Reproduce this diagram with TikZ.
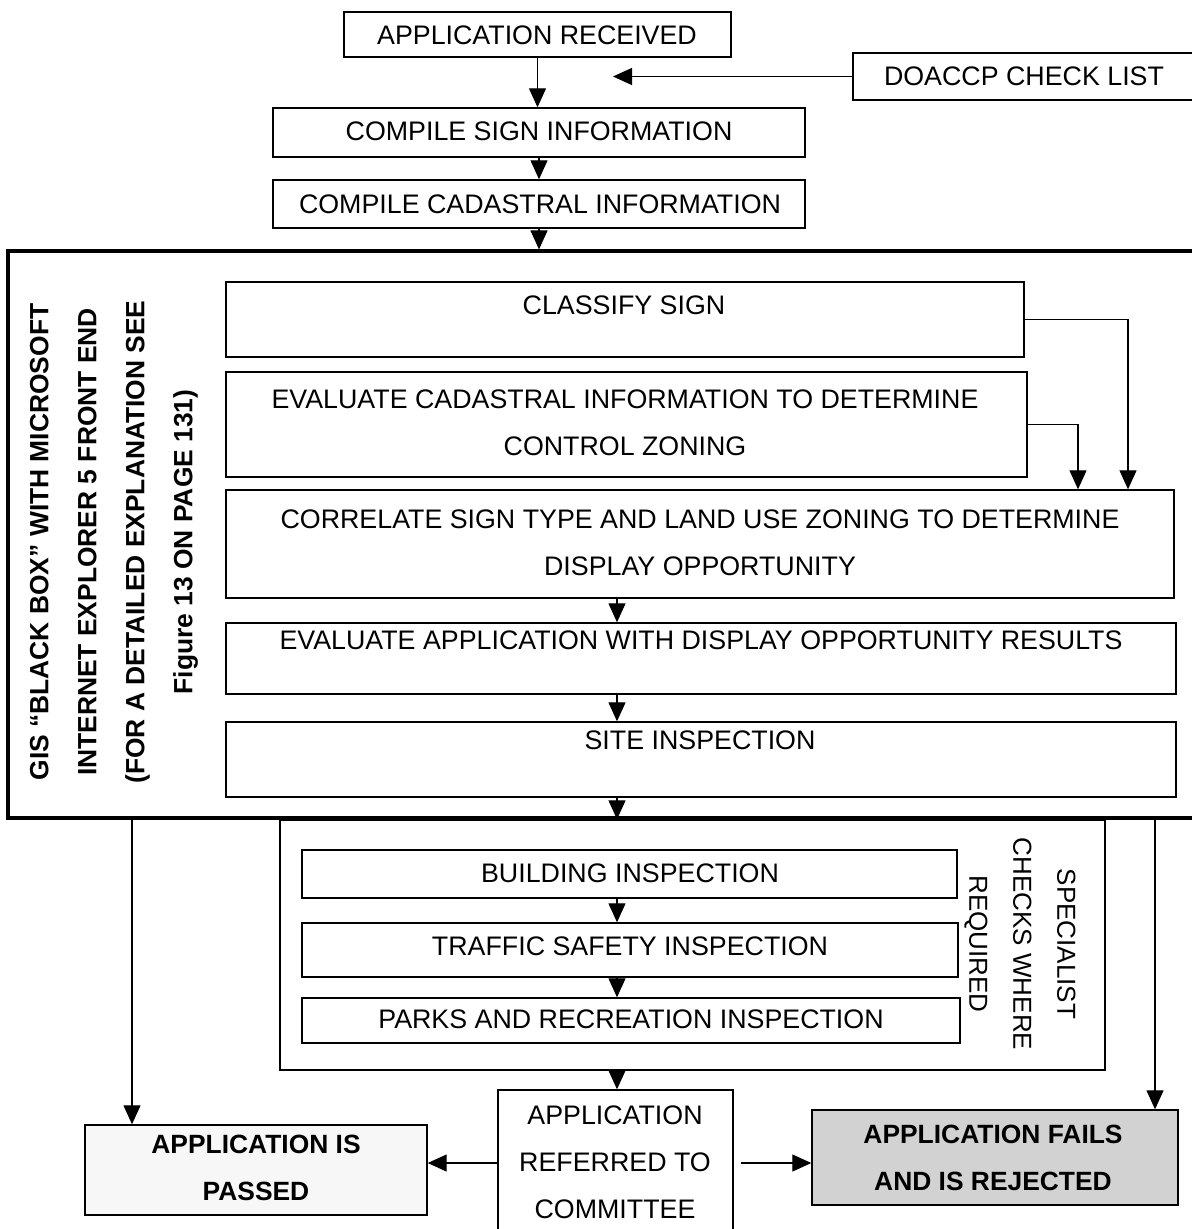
\documentclass[tikz,border=0pt]{standalone}
\usepackage{fontspec}
\setmainfont{Liberation Sans}
\usetikzlibrary{arrows.meta,fit,calc}

\begin{document}
\begin{tikzpicture}[x=0.5pt,y=-0.5pt,
  box/.style={draw, line width=0.7pt, inner sep=0pt, rectangle},
  frame/.style={draw, line width=1.6pt, inner sep=0pt, rectangle},
  txt/.style={font=\fontsize{13.4}{23.5}\selectfont, align=center, inner sep=0pt},
  btxt/.style={font=\bfseries\fontsize{13.2}{23.5}\selectfont, align=center, inner sep=0pt},
  arr/.style={line width=0.6pt, -{Triangle[length=9.5pt,width=8.5pt]}},
]
\fill[white] (0,0) rectangle (1191,1229);
\useasboundingbox (0,0) rectangle (1191,1229);

% intake steps
\node[box, fit={(344,12) (731,57)}] (apprec) {};
\node[txt] (apprec-t) at (537,35) {APPLICATION RECEIVED};
\node[box, fit={(853,53) (1205,100)}] (doaccp) {};
\node[txt] (doaccp-t) at (1024,76) {DOACCP CHECK LIST};
\coordinate (listtip) at (613,76);
\node[box, fit={(273,108) (805,157)}] (sign) {};
\node[txt] (sign-t) at (539,131) {COMPILE SIGN INFORMATION};
\node[box, fit={(273,180) (805,228)}] (cad) {};
\node[txt] (cad-t) at (540,204) {COMPILE CADASTRAL INFORMATION};

% GIS black box
\node[frame, fit={(8,251) (1215,818)}] (gis) {};
\node[btxt, font=\bfseries\fontsize{13.2}{24}\selectfont, rotate=90] (gis-t) at (114,542)
  {GIS “BLACK BOX” WITH MICROSOFT\\INTERNET EXPLORER 5 FRONT END\\(FOR A DETAILED EXPLANATION SEE\\Figure 13 ON PAGE 131)};
\node[box, fit={(226,282) (1024,357)}] (classify) {};
\node[txt] (classify-t) at (624,305) {CLASSIFY SIGN};
\node[box, fit={(226,372) (1027,477)}] (evalcad) {};
\node[txt] (evalcad-t) at (625,423) {EVALUATE CADASTRAL INFORMATION TO DETERMINE\\CONTROL ZONING};
\node[box, fit={(226,490) (1174,598)}] (correlate) {};
\node[txt] (correlate-t) at (700,543) {CORRELATE SIGN TYPE AND LAND USE ZONING TO DETERMINE\\DISPLAY OPPORTUNITY};
\node[box, fit={(226,623) (1176,694)}] (evalapp) {};
\node[txt] (evalapp-t) at (701,640) {EVALUATE APPLICATION WITH DISPLAY OPPORTUNITY RESULTS};
\node[box, fit={(226,722) (1176,797)}] (site) {};
\node[txt] (site-t) at (700,740) {SITE INSPECTION};

% specialist checks
\node[box, fit={(280,820) (1105,1070)}] (spec) {};
\node[box, fit={(302,850) (957,898)}] (building) {};
\node[txt] (building-t) at (630,873) {BUILDING INSPECTION};
\node[box, fit={(302,923) (958,977)}] (traffic) {};
\node[txt] (traffic-t) at (630,946) {TRAFFIC SAFETY INSPECTION};
\node[box, fit={(302,998) (960,1043)}] (parks) {};
\node[txt] (parks-t) at (631,1019) {PARKS AND RECREATION INSPECTION};
\node[txt, font=\fontsize{13}{22}\selectfont, rotate=-90] (spec-t) at (1020,944)
  {SPECIALIST\\CHECKS WHERE\\REQUIRED};

% outcomes
\node[box, fit={(498,1090) (733,1240)}] (committee) {};
\node[txt] (committee-t) at (615,1162) {APPLICATION\\REFERRED TO\\COMMITTEE};
\node[box, fill=gray!6, fit={(85,1125) (427,1215)}] (passed) {};
\node[btxt] (passed-t) at (256,1168) {APPLICATION IS\\PASSED};
\node[box, fill=gray!35, fit={(812,1110) (1178,1205)}] (rejected) {};
\node[btxt] (rejected-t) at (993,1158) {APPLICATION FAILS\\AND IS REJECTED};

% guide coordinates for the connectors
\coordinate (col) at (617,0);
\coordinate (cj) at (1128,0);
\coordinate (ej) at (1078,0);
\coordinate (pj) at (132,0);
\coordinate (rj) at (1155,0);
\coordinate (row) at (0,1163);

% connectors
\draw[arr] (apprec.south) -- (apprec.south |- sign.north);
\draw[arr] (doaccp.west) -- (doaccp.west -| listtip);
\draw[arr] (sign.south) -- (cad.north);
\draw[arr] (cad.south) -- (cad.south |- gis.north);
\draw[arr] (classify.east) -| (cj |- correlate.north);
\draw[arr] (evalcad.east) -| (ej |- correlate.north);
\draw[arr] (correlate.south -| col) -- (evalapp.north -| col);
\draw[arr] (evalapp.south -| col) -- (site.north -| col);
\draw[arr] (site.south -| col) -- (spec.north -| col);
\draw[arr] (building.south -| col) -- (traffic.north -| col);
\draw[arr] (traffic.south -| col) -- (parks.north -| col);
\draw[arr] (spec.south -| col) -- (committee.north -| col);
\draw[arr] (gis.south -| pj) -- (passed.north -| pj);
\draw[arr] (gis.south -| rj) -- (rejected.north -| rj);
\draw[arr] (committee.west |- row) -- (passed.east |- row);
\draw[arr, shorten <=3.5pt] (committee.east |- row) -- (rejected.west |- row);
\end{tikzpicture}
\end{document}
